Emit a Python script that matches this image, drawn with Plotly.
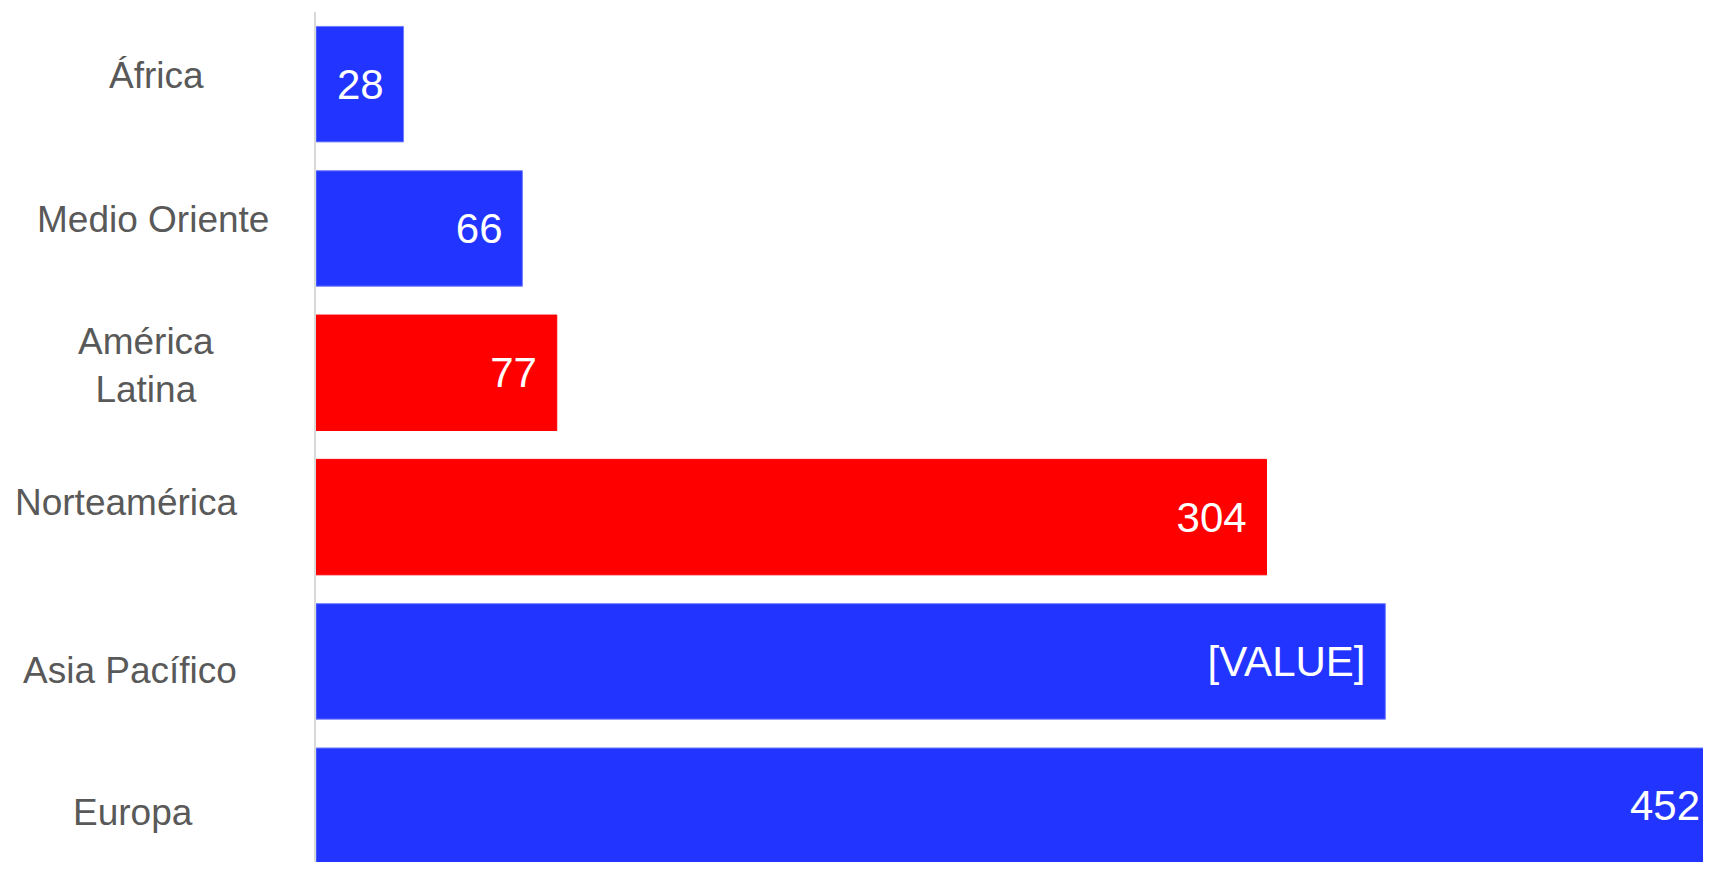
import plotly.graph_objects as go

# Data
regions = ["África", "Medio Oriente", "América Latina", "Norteamérica", "Asia Pacífico", "Europa"]
region_labels = ["África", "Medio Oriente", "América<br>Latina", "Norteamérica", "Asia Pacífico", "Europa"]
values = [28, 66, 77, 304, 342, 452]
value_labels = ["28", "66", "77", "304", "[VALUE]", "452"]
bar_colors = ["#2234FF", "#2234FF", "#FF0000", "#FF0000", "#2234FF", "#2234FF"]
bar_edge_colors = ["#6F7DFF", "#6F7DFF", "#FF0000", "#FF0000", "#6F7DFF", "#6F7DFF"]

# Styles / layout
label_xshift = [-160, -163, -170, -190, -186, -183]
label_yshift = [9, 9, 7, 15, -9, -7]
X_MAX = 443.6          # visible axis range (longest bar runs off the edge)
PAD = "\u2009\u2009"
FONT = "Liberation Sans, Arial, sans-serif"

bar_texts = [t + PAD if v <= X_MAX else "" for t, v in zip(value_labels, values)]

fig = go.Figure()
fig.add_trace(go.Bar(
    y=regions,
    x=values,
    orientation="h",
    marker=dict(color=bar_colors, line=dict(color=bar_edge_colors, width=1)),
    text=bar_texts,
    textposition="inside",
    insidetextanchor="end",
    textangle=0,
    textfont=dict(family=FONT, size=42, color="#FFFFFF"),
    cliponaxis=False,
    hoverinfo="skip",
))

# value labels of bars running past the visible range, pinned to the right edge
for r, t, v in zip(regions, value_labels, values):
    if v > X_MAX:
        fig.add_annotation(
            x=1, xref="paper", y=r, yref="y",
            text=t, showarrow=False,
            xanchor="right", yanchor="middle", xshift=-1,
            font=dict(family=FONT, size=42, color="#FFFFFF"),
        )

for r, lab, xs, ys in zip(regions, region_labels, label_xshift, label_yshift):
    fig.add_annotation(
        x=0, y=r, xref="x", yref="y",
        text=lab, showarrow=False,
        xanchor="center", yanchor="middle",
        xshift=xs, yshift=ys,
        align="center",
        font=dict(family=FONT, size=37, color="#595959"),
    )

fig.update_layout(
    width=1695, height=854,
    margin=dict(l=308, r=0, t=4, b=0),
    paper_bgcolor="#FFFFFF",
    plot_bgcolor="#FFFFFF",
    bargap=0.2,
    showlegend=False,
)
fig.update_xaxes(range=[0, X_MAX], showticklabels=False, showgrid=False,
                 zeroline=False, showline=False, ticks="")
fig.update_yaxes(
    categoryorder="array", categoryarray=regions,
    range=[5.39, -0.5],
    showticklabels=False, showgrid=False, zeroline=False, ticks="",
    showline=True, linecolor="#D9D9D9", linewidth=2,
)

fig.write_html("out.html")
